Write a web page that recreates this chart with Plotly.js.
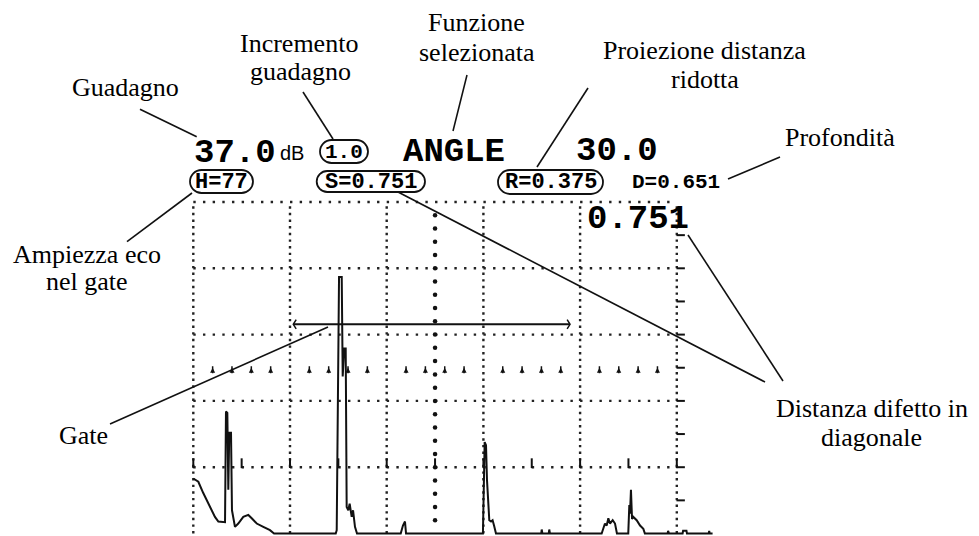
<!DOCTYPE html>
<html><head><meta charset="utf-8">
<script src="https://cdn.plot.ly/plotly-3.0.1.min.js"></script>
<style>html,body{margin:0;padding:0;background:#fff;}#chart{width:979px;height:536px;}</style>
</head><body><div id="chart"></div>
<script>
// ---- A-scan echo trace (screen divisions: x = time base, y = amplitude) ----
const echoX = [0.000,0.052,0.103,0.173,0.224,0.259,0.328,0.338,0.352,0.362,0.372,0.390,0.400,0.431,0.465,0.517,0.569,0.604,0.656,0.724,0.793,0.835,
  1.473,1.483,1.507,1.535,1.545,1.561,1.576,1.586,1.603,1.617,1.638,1.652,1.672,1.693,
  2.145,2.168,2.189,2.200,
  2.995,3.013,3.027,3.037,3.061,3.079,3.095,3.110,3.130,
  3.598,3.603,3.610,3.676,3.681,3.688,
  4.223,4.257,4.275,4.292,4.309,4.337,4.361,4.381,
  4.498,4.509,4.516,4.526,4.537,4.550,4.585,4.620,4.654,4.670,
  4.905,4.910,4.920,5.060,5.065,5.100,5.105,5.330,5.335,5.340,5.370];
const echoY = [0.83,0.78,0.61,0.40,0.25,0.18,0.17,1.84,1.82,0.66,1.52,1.52,0.35,0.10,0.15,0.25,0.28,0.23,0.15,0.10,0.05,0.00,
  0.00,0.05,3.87,3.87,2.37,2.79,2.79,0.40,0.35,0.45,0.25,0.35,0.10,0.00,
  0.00,0.12,0.18,0.00,
  0.00,1.38,1.33,0.81,0.20,0.18,0.20,0.12,0.00,
  0.00,0.06,0.00,0.00,0.06,0.00,
  0.00,0.15,0.12,0.23,0.15,0.20,0.15,0.00,
  0.00,0.43,0.30,0.66,0.22,0.25,0.20,0.12,0.07,0.00,
  0.00,0.04,0.00,0.00,0.04,0.04,0.00,0.00,0.04,0.00,0.00];

// ---- gate ----
const gateStart = 1.034, gateEnd = 3.896, gateLevel = 3.155;

// ---- graticule ----
const gridCols = [0,1,2,3,4,5];
const gridRows = [1,2,3,4,5];

// ---- instrument readouts ----
const gainValue = "37.0", gainUnit = "dB", gainStep = "1.0";
const functionName = "ANGLE", angleValue = "30.0";
const ampReading = "H=77", soundPath = "S=0.751", surfaceDist = "R=0.375", depthReading = "D=0.651";
const bigReading = "0.751";

// ---- callout labels (Italian) ----
const lblGain = "Guadagno";
const lblStep = ["Incremento","guadagno"];
const lblFunc = ["Funzione","selezionata"];
const lblProj = ["Proiezione distanza","ridotta"];
const lblDepth = "Profondità";
const lblAmp = ["Ampiezza eco","nel gate"];
const lblGate = "Gate";
const lblDiag = ["Distanza difetto in","diagonale"];

// pixel helpers for decorations
const X0 = 193.3, DX = 96.7, Y0 = 533.5, DY = 66.3;
const X = px => (px - X0) / DX;
const Y = py => (Y0 - py) / DY;

const INK = '#111';
const traces = [];
gridCols.forEach(c => traces.push({x:[c,c], y:[0,5], mode:'lines', hoverinfo:'skip',
  line:{color:'#222', width:2.4, dash:'2.4px,4.23px'}}));
gridRows.forEach(r => traces.push({x:[0,5], y:[r,r], mode:'lines', hoverinfo:'skip',
  line:{color:'#222', width:2.4, dash:'2.4px,7.27px'}}));

// centre vertical line: larger dots every 0.2 div
const cvY = []; for (let k=1;k<=24;k++) cvY.push(k*0.2);
traces.push({x:cvY.map(()=>2.5), y:cvY, mode:'markers', hoverinfo:'skip',
  marker:{symbol:'circle', size:4.5, color:INK}});
// centre horizontal line: small arrow marks every 0.2 div
const chX = []; for (let k=1;k<=24;k++) if (k%5!==0) chX.push(k*0.2);
traces.push({x:chX, y:chX.map(()=>2.5), mode:'markers', hoverinfo:'skip',
  marker:{symbol:'arrow-up', size:5, color:INK, line:{width:0}}});
traces.push({x:chX, y:chX.map(()=>2.47), mode:'markers', hoverinfo:'skip',
  marker:{symbol:'line-ns', size:5, line:{width:1.5, color:INK}}});
// right edge half-division dashes
const reY = []; for (let k=1;k<=9;k++) reY.push(k*0.5);
traces.push({x:reY.map(()=>5.04), y:reY, mode:'markers', hoverinfo:'skip',
  marker:{symbol:'line-ew', size:6, line:{width:2, color:INK}}});
// ticks on the 1-division row
const tkX = []; for (let k=0;k<=10;k++) tkX.push(k*0.5);
traces.push({x:tkX, y:tkX.map(()=>1.06), mode:'markers', hoverinfo:'skip',
  marker:{symbol:'line-ns', size:7, line:{width:2, color:INK}}});

// echo
traces.push({x:echoX, y:echoY, mode:'lines', hoverinfo:'skip', cliponaxis:false,
  line:{color:INK, width:2, shape:'linear'}});
// gate
traces.push({x:[gateStart,gateEnd], y:[gateLevel,gateLevel], mode:'lines', hoverinfo:'skip',
  line:{color:INK, width:2}});
traces.push({x:[gateStart+0.03,gateStart,gateStart+0.03,null,gateEnd-0.03,gateEnd,gateEnd-0.03],
  y:[gateLevel+0.07,gateLevel,gateLevel-0.07,null,gateLevel+0.07,gateLevel,gateLevel-0.07],
  mode:'lines', hoverinfo:'skip', line:{color:INK, width:1.5}});

// annotations
const serif = () => ({family:'Liberation Serif', size:26, color:'#000'});
const mono = s => ({family:'Liberation Mono', size:s, color:'#000', weight:'bold'});
const ann = (txt, px, py, font, xa) => ({text:txt, x:X(px), y:Y(py), xref:'x', yref:'y',
  showarrow:false, font:font, xanchor:xa||'center', yanchor:'middle'});
const annotations = [
  ann(lblGain, 125, 87.9, serif()),
  ann(lblStep[0], 299, 43.2, serif()), ann(lblStep[1], 300, 71.2, serif()),
  ann(lblFunc[0], 476, 22.7, serif()), ann(lblFunc[1], 477, 52.2, serif()),
  ann(lblProj[0], 704.5, 50.2, serif()), ann(lblProj[1], 705, 79.7, serif()),
  ann(lblDepth, 840, 137.2, serif()),
  ann(lblAmp[0], 87, 254.5, serif()), ann(lblAmp[1], 86.7, 281.2, serif()),
  ann(lblGate, 83, 435.2, serif()),
  ann(lblDiag[0], 872, 408.5, serif()), ann(lblDiag[1], 871.7, 437.2, serif()),
  ann(gainValue, 192, 153, mono(34), 'left'),
  ann(gainUnit, 292, 153, {family:'Liberation Sans', size:20, color:'#000'}),
  ann(gainStep, 344, 152, mono(21)),
  ann(functionName, 454, 152, mono(34)),
  ann(angleValue, 616.5, 151, mono(34)),
  ann(ampReading, 221.5, 182, mono(22)),
  ann(soundPath, 371, 182, mono(22)),
  ann(surfaceDist, 550.5, 182.5, mono(22)),
  ann(depthReading, 676, 182, mono(21)),
  ann(bigReading, 637.5, 218.5, mono(34))
];

// stadium outlines round readouts
function stadium(L, R, T, B) {
  const r = (B - T) / 2, k = 0.5523 * r, cy = T + r;
  const P = (px, py) => X(px).toFixed(4) + ',' + Y(py).toFixed(4);
  return 'M' + P(L + r, T) + ' L' + P(R - r, T) +
    ' C' + P(R - r + k, T) + ' ' + P(R, cy - k) + ' ' + P(R, cy) +
    ' C' + P(R, cy + k) + ' ' + P(R - r + k, B) + ' ' + P(R - r, B) +
    ' L' + P(L + r, B) +
    ' C' + P(L + r - k, B) + ' ' + P(L, cy + k) + ' ' + P(L, cy) +
    ' C' + P(L, cy - k) + ' ' + P(L + r - k, T) + ' ' + P(L + r, T) + ' Z';
}
const shapes = [];
[[320,368,140,163],[190,253,170,193],[316.7,425,171,192],[498,603,170,194]].forEach(b =>
  shapes.push({type:'path', xref:'x', yref:'y', path:stadium(b[0],b[1],b[2],b[3]),
    line:{color:INK, width:1.8}}));
// leader lines
[[140,109.3,196.7,136.7],[303,92,333,139],[467,75,453,131],[588,88,537,167],[728,179,780,157],
 [127,241.7,192,193],[110,424,328,327],[398,192,765,382],[688,235,783,381]].forEach(l =>
  shapes.push({type:'line', xref:'x', yref:'y', x0:X(l[0]), y0:Y(l[1]), x1:X(l[2]), y1:Y(l[3]),
    line:{color:INK, width:1.6}}));

const layout = {
  width:979, height:536, margin:{l:0,r:0,t:0,b:0},
  paper_bgcolor:'#fff', plot_bgcolor:'#fff', showlegend:false,
  xaxis:{range:[X(0), X(979)], visible:false, fixedrange:true},
  yaxis:{range:[Y(536), Y(0)], visible:false, fixedrange:true},
  annotations:annotations, shapes:shapes
};
Plotly.newPlot('chart', traces, layout, {staticPlot:true, displayModeBar:false});
</script></body></html>
